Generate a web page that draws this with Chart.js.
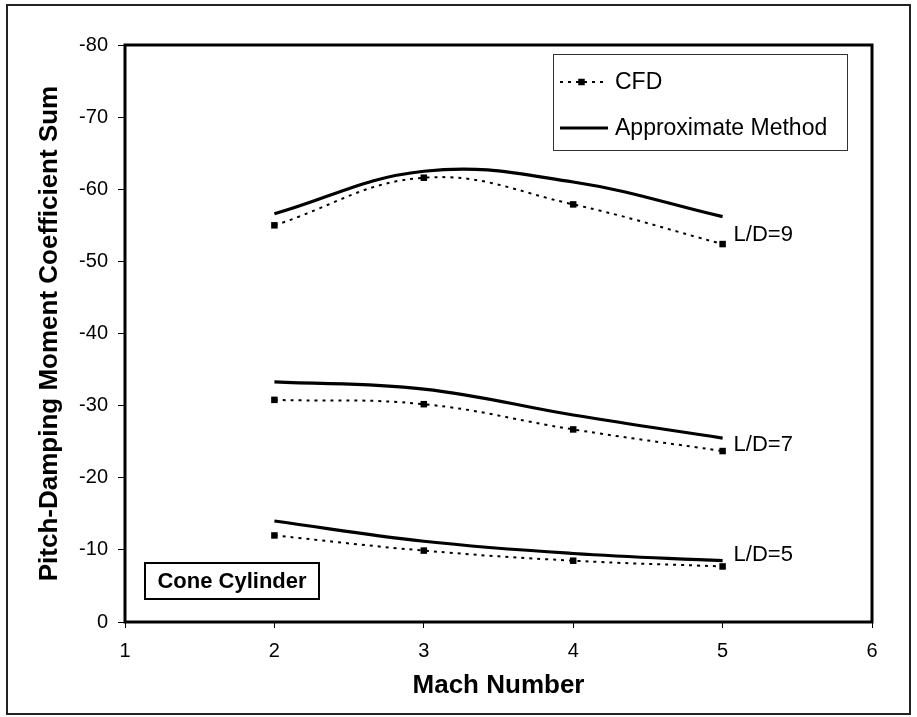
<!DOCTYPE html>
<html>
<head>
<meta charset="utf-8">
<script src="https://cdn.jsdelivr.net/npm/chart.js@4.4.1/dist/chart.umd.min.js"></script>
<style>
  html, body { margin: 0; padding: 0; background: #fff; }
  #wrap { width: 917px; height: 717px; }
</style>
</head>
<body>
<div id="wrap"><canvas id="chart" width="917" height="717"></canvas></div>
<script>
"use strict";

// Mach numbers where values were read
const mach = [2, 3, 4, 5];

// Pitch-damping moment coefficient sum
const cfdLD9 = [-55.0, -61.6, -57.9, -52.4];
const approxLD9 = [-56.6, -62.5, -61.0, -56.2];
const cfdLD7 = [-30.8, -30.2, -26.7, -23.7];
const approxLD7 = [-33.3, -32.3, -28.7, -25.5];
const cfdLD5 = [-12.0, -9.9, -8.5, -7.7];
const approxLD5 = [-14.0, -11.2, -9.5, -8.5];

// Curve labels at the right end and the y value they sit at
const ldLabels = ["L/D=9", "L/D=7", "L/D=5"];
const ldLabelValues = [-53.7, -24.6, -9.3];

const FONT = "'Liberation Sans', Arial, Helvetica, sans-serif";

const toPoints = (ys) => mach.map((x, i) => ({ x, y: ys[i] }));

const cfdStyle = {
  borderColor: "#000",
  backgroundColor: "#000",
  borderWidth: 2,
  borderDash: [3, 5],
  pointStyle: "rect",
  pointRadius: 4.6,
  pointBorderWidth: 0,
  tension: 0.4,
};

const approxStyle = {
  borderColor: "#000",
  backgroundColor: "#000",
  borderWidth: 3.2,
  pointRadius: 0,
  tension: 0.4,
};

const datasets = [
  { label: "CFD", data: toPoints(cfdLD9), ...cfdStyle },
  { label: "Approximate Method", data: toPoints(approxLD9), ...approxStyle },
  { label: "CFD", data: toPoints(cfdLD7), ...cfdStyle },
  { label: "Approximate Method", data: toPoints(approxLD7), ...approxStyle },
  { label: "CFD", data: toPoints(cfdLD5), ...cfdStyle },
  { label: "Approximate Method", data: toPoints(approxLD5), ...approxStyle },
];

// Frames, legend box, annotation text
const decorPlugin = {
  id: "decor",
  beforeDraw(chart) {
    const { ctx, width, height } = chart;
    ctx.save();
    ctx.fillStyle = "#fff";
    ctx.fillRect(0, 0, width, height);
    ctx.strokeStyle = "#222";
    ctx.lineWidth = 2;
    ctx.strokeRect(7, 5, width - 14, height - 8);
    ctx.restore();
  },
  afterDatasetsDraw(chart) {
    const { ctx, chartArea: a, scales } = chart;
    ctx.save();

    // plot frame
    ctx.strokeStyle = "#000";
    ctx.lineWidth = 3;
    ctx.strokeRect(a.left, a.top, a.right - a.left, a.bottom - a.top);

    // legend
    const lx = a.right - 319, ly = a.top + 9, lw = 294, lh = 96;
    ctx.fillStyle = "#fff";
    ctx.fillRect(lx, ly, lw, lh);
    ctx.strokeStyle = "#333";
    ctx.lineWidth = 1;
    ctx.strokeRect(lx + 0.5, ly + 0.5, lw, lh);

    const entries = [datasets[0], datasets[1]];
    entries.forEach((ds, i) => {
      const y = ly + 28 + i * 46;
      const x0 = lx + 7, x1 = lx + (i === 0 ? 50 : 55);
      ctx.strokeStyle = ds.borderColor;
      ctx.lineWidth = ds.borderWidth;
      ctx.setLineDash(ds.borderDash || []);
      ctx.beginPath();
      ctx.moveTo(x0, y);
      ctx.lineTo(x1, y);
      ctx.stroke();
      ctx.setLineDash([]);
      if (ds.pointRadius) {
        const r = ds.pointRadius * Math.SQRT1_2;
        const cx = (x0 + x1) / 2;
        ctx.fillStyle = ds.backgroundColor;
        ctx.fillRect(cx - r, y - r, r * 2, r * 2);
      }
      ctx.fillStyle = "#000";
      ctx.font = "23px " + FONT;
      ctx.textBaseline = "middle";
      ctx.textAlign = "left";
      ctx.fillText(ds.label, lx + 62, y + 1);
    });

    // L/D labels
    ctx.font = "22px " + FONT;
    ctx.textBaseline = "middle";
    ctx.fillStyle = "#000";
    const xr = scales.x.getPixelForValue(mach[mach.length - 1]) + 11;
    ldLabels.forEach((t, i) => {
      ctx.fillText(t, xr, scales.y.getPixelForValue(ldLabelValues[i]));
    });

    // Cone Cylinder box
    const bx = a.left + 20, by = a.bottom - 59, bw = 174, bh = 36;
    ctx.fillStyle = "#fff";
    ctx.fillRect(bx, by, bw, bh);
    ctx.strokeStyle = "#000";
    ctx.lineWidth = 2;
    ctx.strokeRect(bx, by, bw, bh);
    ctx.fillStyle = "#000";
    ctx.font = "bold 22px " + FONT;
    ctx.textAlign = "center";
    ctx.fillText("Cone Cylinder", bx + bw / 2, by + bh / 2 + 1);

    ctx.restore();
  },
};

new Chart(document.getElementById("chart"), {
  type: "line",
  data: { datasets },
  plugins: [decorPlugin],
  options: {
    responsive: false,
    animation: false,
    devicePixelRatio: 1,
    layout: { padding: { top: 45, right: 45, left: 0, bottom: 0 } },
    plugins: {
      legend: { display: false },
      tooltip: { enabled: false },
    },
    scales: {
      x: {
        type: "linear",
        min: 1,
        max: 6,
        afterFit: (s) => { s.height = 95; },
        ticks: {
          stepSize: 1,
          color: "#000",
          font: { family: FONT, size: 20 },
          padding: 11,
          maxRotation: 0,
        },
        grid: { drawOnChartArea: false, drawTicks: true, tickLength: 6, color: "#000" },
        border: { display: false },
        title: {
          display: true,
          text: "Mach Number",
          color: "#000",
          font: { family: FONT, size: 26, weight: "bold" },
          padding: { top: 0, bottom: 16 },
        },
      },
      y: {
        type: "linear",
        min: -80,
        max: 0,
        reverse: true,
        afterFit: (s) => { s.width = 125; },
        ticks: {
          stepSize: 10,
          color: "#000",
          font: { family: FONT, size: 20 },
          padding: 10,
        },
        grid: { drawOnChartArea: false, drawTicks: true, tickLength: 7, color: "#000" },
        border: { display: false },
        title: {
          display: true,
          text: "Pitch-Damping Moment Coefficient Sum",
          color: "#000",
          font: { family: FONT, size: 26, weight: "bold" },
          padding: { top: 34, bottom: 0 },
        },
      },
    },
  },
});
</script>
</body>
</html>
